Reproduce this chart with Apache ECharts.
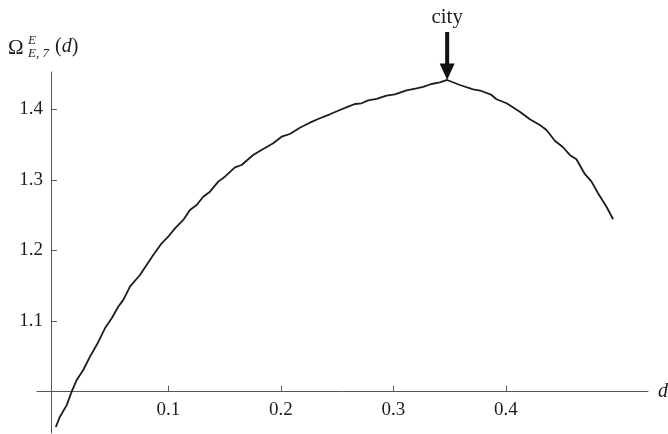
<!DOCTYPE html>
<html><head><meta charset="utf-8">
<script src="https://cdn.jsdelivr.net/npm/echarts@6/dist/echarts.min.js"></script>
<style>html,body{margin:0;padding:0;background:#fff}#c{width:668px;height:434px}</style>
</head><body><div id="c"></div>
<script>
const dValues = [0.000,0.0037,0.0097,0.0141,0.0186,0.0244,0.0304,0.0363,0.0437,0.0497,
  0.0555,0.0600,0.0659,0.0748,0.0807,0.0866,0.0941,0.0999,0.1059,0.1133,
  0.1192,0.1252,0.1310,0.1370,0.1444,0.1503,0.1592,0.1651,0.1754,0.1843,
  0.1932,0.2007,0.2080,0.2169,0.2258,0.2347,0.2436,0.2525,0.2598,0.2658,
  0.2717,0.2776,0.2851,0.2939,0.3013,0.3117,0.3206,0.3265,0.3339,0.3413,
  0.3478,0.3591,0.3709,0.3783,0.3872,0.3917,0.4006,0.4124,0.4213,0.4302,
  0.4361,0.4435,0.4508,0.4568,0.4627,0.4701,0.4761,0.4819,0.4894,0.4953];
const omegaValues = [0.950,0.9646,0.981,1.000,1.0166,1.0307,1.0496,1.0661,1.0898,1.104,
  1.1204,1.130,1.1487,1.1653,1.1795,1.1937,1.2102,1.2195,1.2314,1.2432,
  1.2574,1.2644,1.2762,1.2833,1.2975,1.3045,1.3178,1.3211,1.3353,1.3438,
  1.3518,1.3612,1.365,1.3739,1.381,1.3873,1.3929,1.399,1.4037,1.4075,
  1.4085,1.4127,1.4146,1.4193,1.4212,1.4269,1.4297,1.4316,1.4358,1.4382,
  1.4415,1.4344,1.4283,1.4259,1.4203,1.4142,1.4085,1.3966,1.3858,1.3778,
  1.3707,1.3555,1.3462,1.3353,1.3292,1.3084,1.2975,1.281,1.262,1.2442];
const xTickValues = [0.1, 0.2, 0.3, 0.4];
const yTickValues = [1.1, 1.2, 1.3, 1.4];
const xAxisName = 'd';
const peakLabel = 'city';
const xAxisCrossOmega = 1.0;   // x axis drawn at Omega = 1
const yAxisCrossD = -0.0043;   // y axis drawn slightly left of d = 0

const SERIF = '"Liberation Serif","DejaVu Serif",serif';
const AXIS_COLOR = '#555';
const INK = '#1c1c1c';

let peakIdx = 0;
omegaValues.forEach((v, i) => { if (v > omegaValues[peakIdx]) peakIdx = i; });
const seriesData = dValues.map((d, i) => [d, omegaValues[i]]);

const chart = echarts.init(document.getElementById('c'), null, {renderer: 'canvas'});
const GRID = {left: 37, right: 20, top: 72, bottom: 1, containLabel: false, outerBoundsMode: 'none'};

const option = {
  animation: false,
  backgroundColor: '#fff',
  grid: GRID,
  xAxis: {
    type: 'value', min: -0.0167, max: 0.5263,
    name: xAxisName, nameLocation: 'end', nameGap: 10,
    nameTextStyle: {fontFamily: SERIF, fontStyle: 'italic', fontSize: 20, color: INK},
    axisLine: {show: true, onZero: false, lineStyle: {color: AXIS_COLOR, width: 1}},
    axisTick: {show: true, inside: true, length: 6, customValues: xTickValues, lineStyle: {color: AXIS_COLOR, width: 1}},
    axisLabel: {show: true, customValues: xTickValues, formatter: v => v.toFixed(1), fontFamily: SERIF, fontSize: 19, color: INK, margin: 9},
    splitLine: {show: false},
    offset: 0
  },
  yAxis: {
    type: 'value', min: 0.9415, max: 1.4528,
    axisLine: {show: true, onZero: false, lineStyle: {color: AXIS_COLOR, width: 1}},
    axisTick: {show: true, inside: true, length: 6, customValues: yTickValues, lineStyle: {color: AXIS_COLOR, width: 1}},
    axisLabel: {show: true, customValues: yTickValues, formatter: v => v.toFixed(1), fontFamily: SERIF, fontSize: 19, color: INK, margin: 8},
    splitLine: {show: false},
    offset: 0
  },
  series: [{
    type: 'line',
    data: seriesData,
    showSymbol: false,
    symbol: 'none',
    lineStyle: {color: INK, width: 1.8},
    clip: false,
    markPoint: {
      silent: true,
      data: [{
        coord: seriesData[peakIdx],
        symbol: 'path://M5.5,0L9.5,0L9.5,31.5L15,31.5L7.5,48L0,31.5L5.5,31.5Z',
        symbolSize: [15, 48],
        symbolKeepAspect: false,
        symbolOffset: [0, '-50%'],
        itemStyle: {color: '#111'},
        label: {show: true, position: 'top', distance: 4, formatter: peakLabel,
                fontFamily: SERIF, fontSize: 21, color: INK}
      }]
    }
  }],
  graphic: [
    {type: 'text', left: 8, top: 38, style: {text: 'Ω', font: '21px ' + SERIF, fill: INK}},
    {type: 'text', left: 28, top: 34, style: {text: 'E', font: 'italic 13px ' + SERIF, fill: INK}},
    {type: 'text', left: 28, top: 47, style: {text: 'E, 7', font: 'italic 13px ' + SERIF, fill: INK}},
    {type: 'text', left: 55, top: 37, style: {
      text: '{n|(}{i|d}{n|)}',
      rich: {n: {fontFamily: SERIF, fontSize: 20, fill: INK, color: INK},
             i: {fontFamily: SERIF, fontSize: 20, fontStyle: 'italic', fill: INK, color: INK}}
    }}
  ]
};
chart.setOption(option);

// place axes so they cross at (yAxisCrossD, xAxisCrossOmega)
const gridBottomPx = 434 - GRID.bottom;
const yCrossPx = chart.convertToPixel({yAxisIndex: 0}, xAxisCrossOmega);
const xCrossPx = chart.convertToPixel({xAxisIndex: 0}, yAxisCrossD);
chart.setOption({
  xAxis: {offset: -(gridBottomPx - yCrossPx)},
  yAxis: {offset: -(xCrossPx - GRID.left)}
});
</script></body></html>
